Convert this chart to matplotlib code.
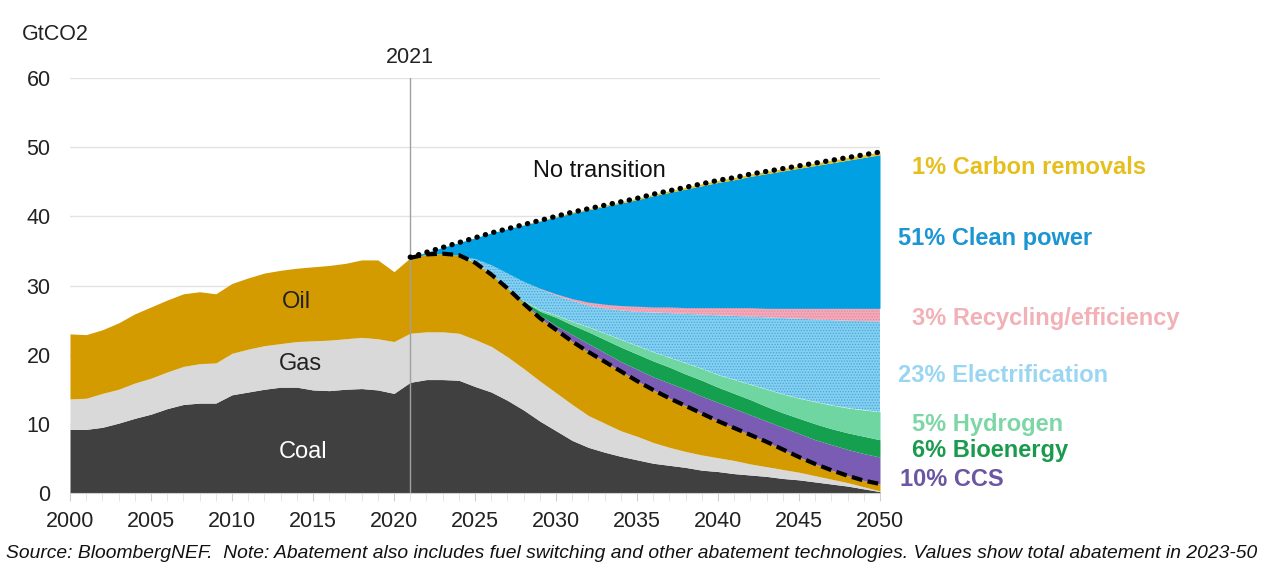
import numpy as np
import matplotlib
matplotlib.use("Agg")
import matplotlib.pyplot as plt
from matplotlib.ticker import MultipleLocator

# ---------------- data (GtCO2, stacked levels) ----------------
years = list(range(2000, 2051))
proj_years = list(range(2021, 2051))

coal_top = [9.2, 9.2, 9.5, 10.1, 10.8, 11.4, 12.2, 12.8, 13.0, 13.0, 14.2, 14.6, 15.0, 15.3, 15.3,
            14.9, 14.8, 15.0, 15.1, 14.9, 14.4,
            16.0, 16.4, 16.4, 16.3, 15.4, 14.6, 13.4, 12.0, 10.4, 9.0, 7.6, 6.6, 5.9, 5.3, 4.8,
            4.3, 4.0, 3.7, 3.3, 3.1, 2.8, 2.6, 2.4, 2.1, 1.9, 1.6, 1.3, 1.0, 0.6, 0.2]
gas_top = [13.6, 13.7, 14.4, 15.0, 15.9, 16.6, 17.5, 18.3, 18.7, 18.8, 20.2, 20.8, 21.3, 21.6, 21.9,
           22.0, 22.1, 22.3, 22.5, 22.3, 21.9,
           23.1, 23.3, 23.3, 23.1, 22.2, 21.2, 19.7, 18.0, 16.2, 14.5, 12.8, 11.2, 10.1, 9.0, 8.2,
           7.3, 6.6, 6.0, 5.5, 5.1, 4.7, 4.2, 3.8, 3.4, 3.0, 2.5, 2.0, 1.5, 0.9, 0.3]
oil_top = [23.0, 22.9, 23.6, 24.6, 25.9, 26.9, 27.9, 28.8, 29.1, 28.8, 30.3, 31.1, 31.8, 32.2, 32.5,
           32.7, 32.9, 33.2, 33.7, 33.7, 32.0,
           34.0, 34.5, 34.6, 34.4, 33.3, 31.6, 29.6, 27.4, 25.3, 23.6, 21.9, 20.4, 19.0, 17.6, 16.2,
           14.9, 13.7, 12.6, 11.5, 10.4, 9.4, 8.4, 7.4, 6.3, 5.2, 4.2, 3.3, 2.5, 1.8, 1.3]

# abatement wedges (levels, 2021-2050)
ccs_top = [34.0, 34.5, 34.6, 34.4, 33.3, 31.6, 29.6, 27.5, 25.7, 24.2, 22.9, 21.6, 20.3, 19.0, 17.9,
           16.8, 15.9, 15.0, 14.0, 13.1, 12.2, 11.3, 10.4, 9.5, 8.6, 7.7, 7.0, 6.3, 5.7, 5.2]
bio_top = [34.0, 34.5, 34.6, 34.4, 33.3, 31.6, 29.6, 27.7, 26.3, 25.4, 24.3, 23.3, 22.2, 21.1, 20.1,
           19.1, 18.2, 17.2, 16.3, 15.3, 14.4, 13.5, 12.5, 11.6, 10.8, 10.0, 9.3, 8.7, 8.2, 7.7]
h2_top = [34.0, 34.5, 34.6, 34.4, 33.3, 31.6, 29.6, 27.8, 26.5, 25.7, 24.8, 24.0, 23.1, 22.2, 21.3,
          20.4, 19.6, 18.8, 18.0, 17.1, 16.4, 15.7, 15.0, 14.3, 13.7, 13.2, 12.7, 12.3, 12.0, 11.75]
elec_top = [34.0, 34.5, 34.6, 34.4, 33.9, 33.0, 31.8, 30.6, 29.5, 28.6, 27.8, 27.1, 26.7, 26.4, 26.2,
            26.1, 26.0, 25.9, 25.8, 25.7, 25.6, 25.5, 25.4, 25.3, 25.2, 25.1, 25.0, 24.9, 24.85, 24.8]
recyc_top = [34.0, 34.5, 34.6, 34.4, 33.9, 33.0, 31.8, 30.6, 29.6, 28.8, 28.1, 27.6, 27.3, 27.1, 27.0,
             26.9, 26.9, 26.8, 26.8, 26.8, 26.8, 26.8, 26.7, 26.7, 26.7, 26.7, 26.7, 26.7, 26.7, 26.7]
no_transition = [34.1, 34.8, 35.5, 36.2, 36.9, 37.6, 38.2, 38.8, 39.4, 40.0, 40.6, 41.1, 41.6, 42.1, 42.6,
                 43.2, 43.7, 44.2, 44.7, 45.2, 45.6, 46.1, 46.5, 46.9, 47.3, 47.7, 48.1, 48.5, 48.9, 49.3]
removals = [0, 0, 0, 0, 0, 0, 0, 0.05, 0.08, 0.1, 0.12, 0.14, 0.16, 0.18, 0.2, 0.22, 0.24, 0.26, 0.28,
            0.3, 0.31, 0.32, 0.33, 0.34, 0.35, 0.36, 0.37, 0.38, 0.39, 0.4]

labels = ["1% Carbon removals", "51% Clean power", "3% Recycling/efficiency", "23% Electrification",
          "5% Hydrogen", "6% Bioenergy", "10% CCS"]

# ---------------- styling ----------------
C_COAL = "#404040"
C_GAS = "#d9d9d9"
C_OIL = "#d39b00"
C_CLEAN = "#00a0e3"
C_ELEC = "#86cff0"
C_RECYC = "#f2a9b9"
C_H2 = "#6fd6a2"
C_BIO = "#14a04e"
C_CCS = "#7b5cb5"
C_CDR = "#e5bf1d"

plt.rcParams["font.family"] = ["Liberation Sans", "DejaVu Sans"]
plt.rcParams["hatch.linewidth"] = 0.6

fig = plt.figure(figsize=(12.84, 5.66), dpi=100)
ax = fig.add_axes([70 / 1284, 1 - 493 / 566, 810 / 1284, 415 / 566])

yrs = np.array(years)
py = np.array(proj_years)
zero = np.zeros(len(yrs))

ax.fill_between(yrs, zero, coal_top, color=C_COAL, lw=0, zorder=2)
ax.fill_between(yrs, coal_top, gas_top, color=C_GAS, lw=0, zorder=2)
ax.fill_between(yrs, gas_top, oil_top, color=C_OIL, lw=0, zorder=2)

oil_proj = np.array(oil_top)[yrs >= 2021]
ax.fill_between(py, oil_proj, ccs_top, color=C_CCS, lw=0, zorder=2)
ax.fill_between(py, ccs_top, bio_top, color=C_BIO, lw=0, zorder=2)
ax.fill_between(py, bio_top, h2_top, color=C_H2, lw=0, zorder=2)
ax.fill_between(py, h2_top, elec_top, facecolor=C_ELEC, edgecolor="#3fa9dc", hatch="......", lw=0, zorder=2)
ax.fill_between(py, elec_top, recyc_top, facecolor=C_RECYC, edgecolor="#e58aa0", hatch="......", lw=0, zorder=2)
cp_top = np.array(no_transition) - np.array(removals)
ax.fill_between(py, recyc_top, cp_top, color=C_CLEAN, lw=0, zorder=2)
ax.fill_between(py, cp_top, no_transition, color=C_CDR, lw=0, zorder=2)

# lines
ax.plot(py, no_transition, color="black", lw=3.8, linestyle=(0, (0.05, 1.6)),
        dash_capstyle="round", zorder=4)
ax.plot(py, oil_proj, color="black", lw=3.0, linestyle=(0, (2.6, 1.3)), zorder=4)

# 2021 marker line
ax.axvline(2021, color="#a0a0a0", lw=1, zorder=3)
ax.text(2021, 61.5, "2021", ha="center", va="bottom", fontsize=15.5, color="#222222")

# axes
ax.set_xlim(2000, 2050)
ax.set_ylim(0, 60)
ax.yaxis.set_major_locator(MultipleLocator(10))
ax.xaxis.set_major_locator(MultipleLocator(5))
ax.xaxis.set_minor_locator(MultipleLocator(1))
ax.grid(axis="y", color="#e3e3e3", lw=1, zorder=0)
ax.set_axisbelow(True)
for s in ["top", "right", "left"]:
    ax.spines[s].set_visible(False)
ax.spines["bottom"].set_color("#d0d0d0")
ax.tick_params(axis="y", length=0, pad=14, labelsize=15.5, labelcolor="#222222")
ax.tick_params(axis="x", which="major", length=6, color="#d0d0d0", pad=7, labelsize=15.5, labelcolor="#222222")
ax.tick_params(axis="x", which="minor", length=6, color="#e0e0e0")

# in-chart labels
ax.text(2014, 27.6, "Oil", ha="center", va="center", fontsize=17, color="#222222", zorder=5)
ax.text(2014.2, 18.7, "Gas", ha="center", va="center", fontsize=17, color="#222222", zorder=5)
ax.text(2014.4, 5.9, "Coal", ha="center", va="center", fontsize=17, color="white", zorder=5)
ax.text(2032.7, 46.5, "No transition", ha="center", va="center", fontsize=17, color="#111111", zorder=5)

# right labels
lab_colors = [C_CDR, "#1b95d3", "#f2b1b7", "#9ad6f2", "#7dd6a6", "#1a9a4c", "#6a56a3"]
lab_pos = [(912, 168), (898, 239), (912, 319), (898, 375), (912, 424), (912, 451), (900, 480)]
for t, c, (x, y) in zip(labels, lab_colors, lab_pos):
    fig.text(x / 1284, 1 - y / 566, t, ha="left", va="center", fontsize=17, fontweight="bold", color=c)

fig.text(22 / 1284, 1 - 35 / 566, "GtCO2", ha="left", va="center", fontsize=15.5, color="#222222")
fig.text(6 / 1284, 1 - 554 / 566,
         "Source: BloombergNEF.  Note: Abatement also includes fuel switching and other abatement technologies. "
         "Values show total abatement in 2023-50",
         ha="left", va="center", fontsize=13.9, style="italic", color="#111111",
         family=["Liberation Sans Narrow", "Liberation Sans", "DejaVu Sans"])

fig.savefig("out.png", dpi=100, facecolor="white")
